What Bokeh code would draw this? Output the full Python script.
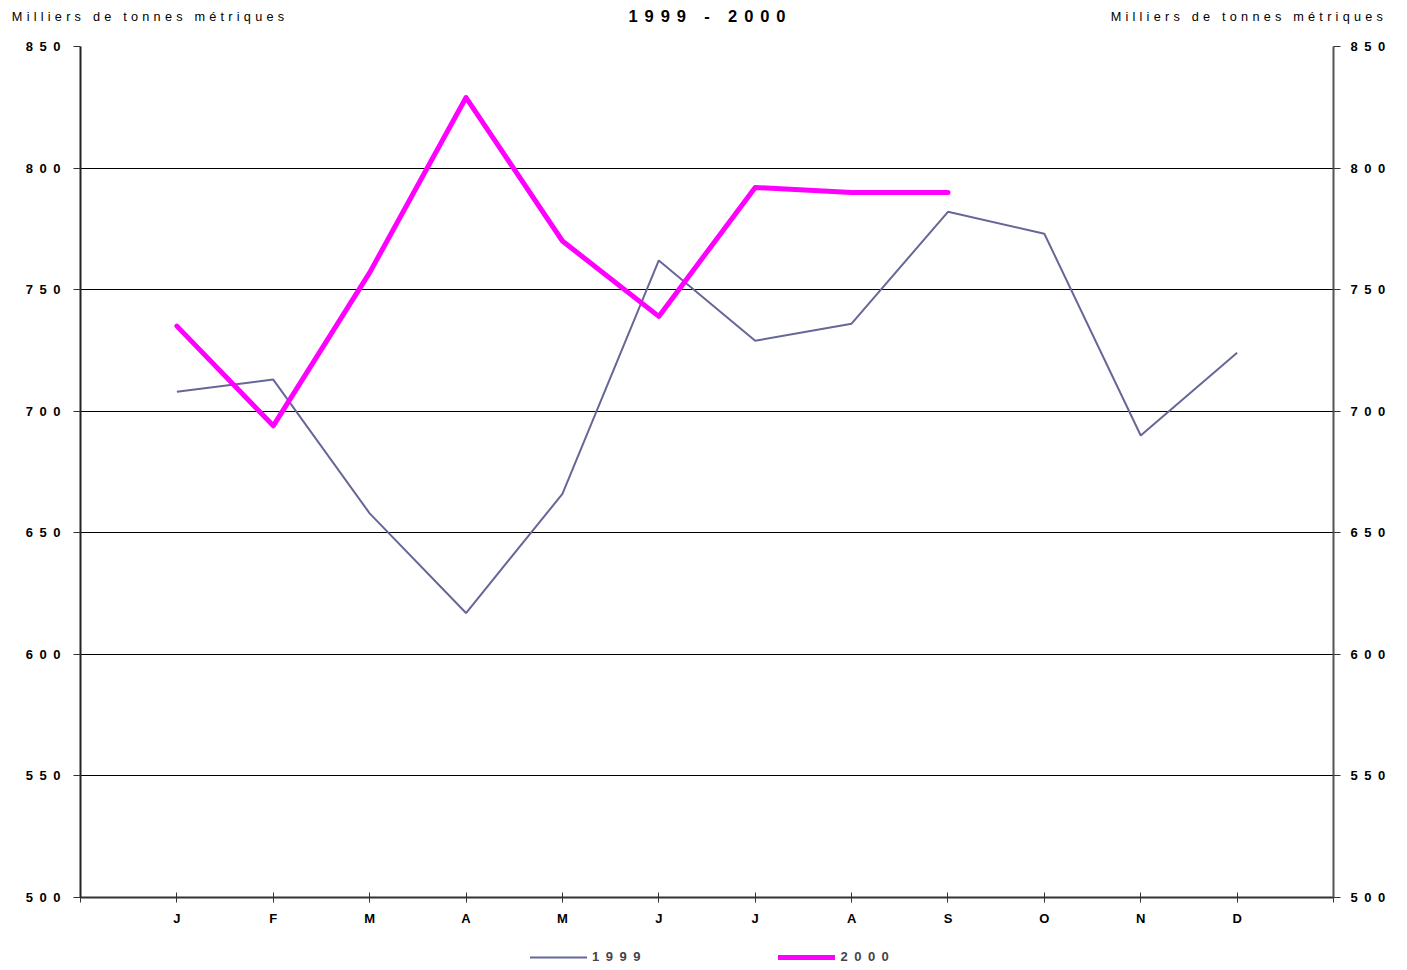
from bokeh.plotting import figure
from bokeh.layouts import column
from bokeh.models import (LinearAxis, FixedTicker, Range1d, Legend, LegendItem,
                          ColumnDataSource)
from bokeh.embed import file_html
from bokeh.resources import INLINE

months = ["J", "F", "M", "A", "M", "J", "J", "A", "S", "O", "N", "D"]
values_1999 = [708, 713, 658, 617, 666, 762, 729, 736, 782, 773, 690, 724]
values_2000 = [735, 694, 757, 829, 770, 739, 792, 790, 790]
y_ticks = [500, 550, 600, 650, 700, 750, 800, 850]
title_text = "1999 - 2000"
unit_text = "Milliers de tonnes métriques"
series_names = ["1999", "2000"]
series_colors = ["#666699", "#FF00FF"]
series_widths = [2, 5]

EN = "\u2002"
TP = "\u2004"


def spaced(s, sep):
    return sep.join(list(s))


FONT = "Liberation Sans"

x1999 = list(range(1, len(values_1999) + 1))
x2000 = list(range(1, len(values_2000) + 1))
src99 = ColumnDataSource(dict(x=x1999, y=values_1999))
src00 = ColumnDataSource(dict(x=x2000, y=values_2000))
sources = [src99, src00]

p = figure(frame_width=1253, frame_height=851, output_backend="svg", toolbar_location=None,
           x_range=Range1d(0, 13), y_range=Range1d(500, 850),
           min_border_left=80, min_border_right=60, min_border_top=46, min_border_bottom=36,
           x_axis_location="below", y_axis_location="left")
p.outline_line_color = None
p.background_fill_color = "white"
p.border_fill_color = "white"

p.line("x", "y", source=src99, line_color=series_colors[0], line_width=series_widths[0])
p.line("x", "y", source=src00, line_color=series_colors[1], line_width=series_widths[1],
       line_join="round", line_cap="round")

yticker = FixedTicker(ticks=y_ticks)
ylabels = {t: spaced(str(t), EN) for t in y_ticks}

# bottom x axis
xticks = list(range(0, 14))
xa = p.xaxis[0]
xa.ticker = FixedTicker(ticks=xticks)
xa.major_label_overrides = {i: (months[i - 1] if 1 <= i <= 12 else "") for i in xticks}
xa.major_label_text_font = FONT
xa.major_label_text_font_style = "bold"
xa.major_label_text_font_size = "13px"
xa.major_label_text_color = "black"
xa.major_tick_in = 5
xa.major_tick_out = 5
xa.minor_tick_line_color = None
xa.axis_line_color = "#333333"
xa.axis_line_width = 2
xa.major_tick_line_color = "#333333"
xa.major_label_standoff = 8

# top "axis" carrying the header texts
top_ticks = [0.7, 12.1]
top_axis = LinearAxis(ticker=FixedTicker(ticks=top_ticks),
                      major_label_overrides={0.7: spaced(unit_text, TP), 12.1: spaced(unit_text, TP)},
                      axis_line_color=None, major_tick_line_color=None, minor_tick_line_color=None,
                      major_label_text_font=FONT, major_label_text_font_size="12.7px",
                      major_label_text_color="black", major_label_standoff=17,
                      axis_label=spaced(title_text, TP + "\u200a"), axis_label_text_font=FONT,
                      axis_label_text_font_size="16.5px", axis_label_text_font_style="bold",
                      axis_label_text_color="black", axis_label_standoff=-18)
p.add_layout(top_axis, "above")

# left / right axes
ya = p.yaxis[0]
ya.ticker = yticker
ya.major_label_overrides = ylabels

ra = LinearAxis(ticker=yticker, major_label_overrides=ylabels)
p.add_layout(ra, "right")

for ax, tin, tout, standoff, col in [(ya, 0, 7, 13, "#222222"), (ra, 0, 7, 10, "#555555")]:
    ax.major_label_text_font = FONT
    ax.major_label_text_font_style = "bold"
    ax.major_label_text_font_size = "13px"
    ax.major_label_text_color = "black"
    ax.major_tick_in = tin
    ax.major_tick_out = tout
    ax.minor_tick_line_color = None
    ax.axis_line_color = col
    ax.axis_line_width = 2
    ax.major_tick_line_color = "#333333"
    ax.major_label_standoff = standoff

p.xgrid.grid_line_color = None
p.ygrid.ticker = yticker
p.ygrid.grid_line_color = "black"
p.ygrid.grid_line_width = 1

# legend strip below the chart (its renderers use the same data, kept out of its view)
leg = figure(width=1393, height=44, output_backend="svg", toolbar_location=None,
             x_range=Range1d(-2, -1), y_range=Range1d(-2, -1), x_axis_type=None, y_axis_type=None,
             min_border=0, min_border_left=0, min_border_right=0, min_border_top=0,
             min_border_bottom=0)
leg.outline_line_color = None
leg.grid.grid_line_color = None
items = []
for name, colr, w, src in zip(series_names, series_colors, series_widths, sources):
    r = leg.line("x", "y", source=src, line_color=colr, line_width=w, line_cap="round")
    items.append(LegendItem(label=spaced(name, EN), renderers=[r]))
legend = Legend(items=items, orientation="horizontal", location=(450, 13),
                glyph_width=57, glyph_height=10, label_height=14, label_standoff=5, spacing=138,
                label_text_font=FONT, label_text_font_style="bold", label_text_font_size="13px",
                border_line_color=None, background_fill_alpha=0, padding=2, margin=0)
leg.add_layout(legend)

layout = column(p, leg, spacing=0)
open("out.html", "w").write(file_html(layout, INLINE))
